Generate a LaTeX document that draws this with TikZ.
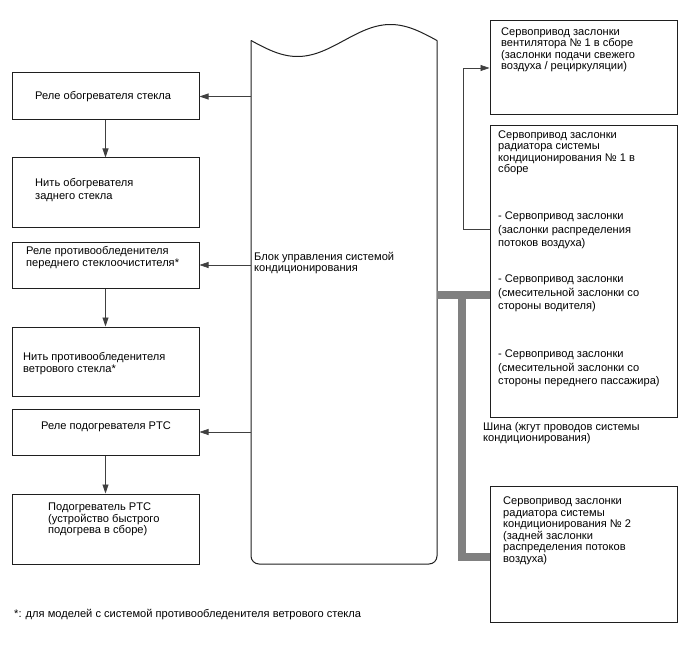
\documentclass[tikz,border=0pt]{standalone}
\usepackage{fontspec}
\setmainfont{Liberation Sans}
\usetikzlibrary{arrows.meta}
\begin{document}
\begin{tikzpicture}[x=1pt,y=-1pt,
  box/.style={draw=black!88, line width=1pt, inner sep=0pt, minimum width=187pt},
  txt/.style={anchor=west, align=left, inner sep=0pt, font=\fontsize{11.1}{11.5}\selectfont},
  txtw/.style={anchor=west, align=left, inner sep=0pt, font=\fontsize{11.1}{13.3}\selectfont},
  conn/.style={draw=black!75, line width=0.7pt, -{Triangle[length=9pt,width=6pt]}},
  bus/.style={draw=black!50, line width=8.5pt, line join=miter},
  eculine/.style={draw=black!88, line width=1pt}]
\useasboundingbox (0,0) rectangle (688,658);

% left column boxes
\node[box, minimum height=47pt] (r1) at (105.5,96.5) {};
\node[box, minimum height=69pt] (f1) at (105.5,192.5) {};
\node[box, minimum height=46pt] (r2) at (105.5,265) {};
\node[box, minimum height=69pt] (f2) at (105.5,361.5) {};
\node[box, minimum height=46pt] (r3) at (105.5,432) {};
\node[box, minimum height=70pt] (f3) at (105.5,529) {};

\node[txt] (t1) at (35,96.5) {Реле обогревателя стекла};
\node[txtw] (t2) at (35,190) {Нить обогревателя\\заднего стекла};
\node[txt] (t3) at (26,257.5) {Реле противообледенителя\\переднего стеклоочистителя*};
\node[txt] (t4) at (23,363.5) {Нить противообледенителя\\ветрового стекла*};
\node[txt] (t5) at (41,427) {Реле подогревателя PTC};
\node[txt] (t6) at (48,519.5) {Подогреватель PTC\\(устройство быстрого\\подогрева в сборе)};

% right column boxes
\node[box, minimum height=94pt] (A) at (583.5,68) {};
\node[box, minimum height=291pt] (B) at (583.5,271.5) {};
\node[box, minimum height=136pt] (C) at (583.5,554) {};

\node[txt] (ta) at (501,50) {Сервопривод заслонки\\вентилятора № 1 в сборе\\(заслонки подачи свежего\\воздуха / рециркуляции)};
\node[txt] (tb0) at (498,153) {Сервопривод заслонки\\радиатора системы\\кондиционирования № 1 в\\сборе};
\node[txtw] (tb1) at (498,230.5) {- Сервопривод заслонки\\(заслонки распределения\\потоков воздуха)};
\node[txtw] (tb2) at (498,293.5) {- Сервопривод заслонки\\(смесительной заслонки со\\стороны водителя)};
\node[txtw] (tb3) at (498,368.5) {- Сервопривод заслонки\\(смесительной заслонки со\\стороны переднего пассажира)};
\node[txt] (tc) at (503,531) {Сервопривод заслонки\\радиатора системы\\кондиционирования № 2\\(задней заслонки\\распределения потоков\\воздуха)};

% central control unit
\node[minimum width=186pt, minimum height=524pt, inner sep=0pt] (ecu) at (344,302) {};
\draw[eculine] plot[domain=0:186, samples=80, smooth] ({251+\x}, {40.5+16*sin(1.935484*\x)});
\draw[eculine, rounded corners=8pt] (251,40.5) -- (251,564) -- (437,564) -- (437,40.5);
\node[txt] (te) at (254,263) {Блок управления системой\\кондиционирования};

% bus
\coordinate (busT) at (462,295);
\coordinate (busB) at (462,557);
\draw[bus] (ecu.east |- busT) -- (B.west |- busT);
\draw[bus] (busT) -- (busB) -- (C.west |- busB);
\node[txt] (tbus) at (483,433) {Шина (жгут проводов системы\\кондиционирования)};

% connectors
\draw[conn] (ecu.west |- r1.east) -- (r1.east);
\draw[conn] (ecu.west |- r2.east) -- (r2.east);
\draw[conn] (ecu.west |- r3.east) -- (r3.east);
\draw[conn] (r1.south) -- (f1.north);
\draw[conn] (r2.south) -- (f2.north);
\draw[conn] (r3.south) -- (f3.north);
\coordinate (bsv) at (490,229);
\draw[conn] (bsv) -- (463,229) |- (A.west);

% footnote
\node[txt] (fn) at (14,615) {*: для моделей с системой противообледенителя ветрового стекла};
\end{tikzpicture}
\end{document}
